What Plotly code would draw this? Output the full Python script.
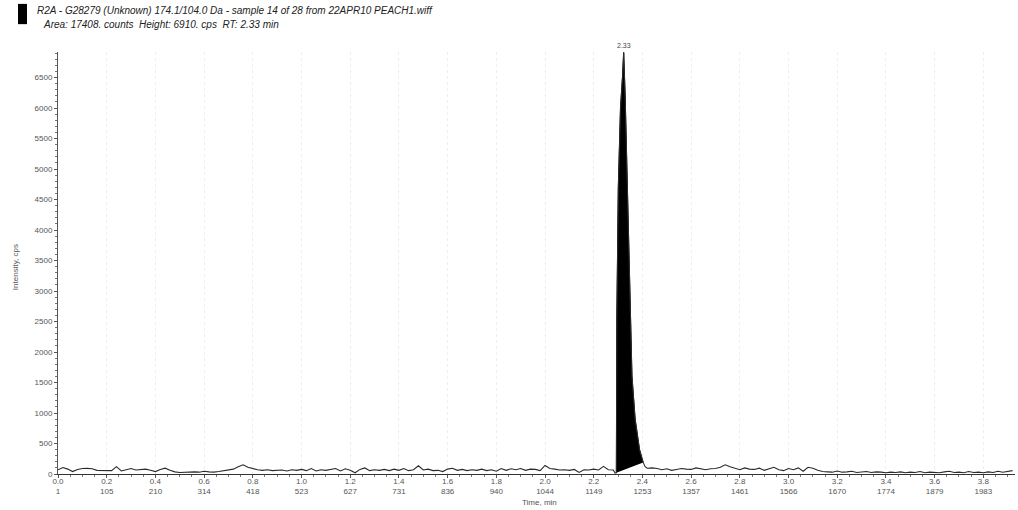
import numpy as np
import plotly.graph_objects as go

# 基线噪声（每0.02 min一个点），峰前 0.00-2.28
pre_values = [
    70, 105, 80, 40, 75, 90, 92, 85, 60, 55, 60, 55, 120, 50, 70,
    90, 65, 70, 80, 60, 40, 75, 95, 60, 35, 25, 30, 28, 35, 30,
    45, 35, 30, 40, 55, 70, 80, 120, 150, 110, 85, 70, 60, 70, 55,
    60, 65, 50, 70, 60, 75, 55, 90, 50, 70, 60, 80, 90, 50, 85,
    60, 20, 75, 100, 55, 70, 60, 75, 55, 80, 60, 90, 55, 70, 135,
    65, 80, 55, 60, 40, 80, 95, 60, 75, 55, 70, 60, 80, 55, 70,
    45, 90, 60, 85, 70, 90, 60, 80, 75, 55, 140, 90, 80, 65, 70,
    60, 75, 25, 70, 65, 80, 65, 125, 70, 65,
]
pre_times = np.round(np.arange(len(pre_values)) * 0.02, 2)

# 色谱峰
peak_times = [2.288, 2.293, 2.295, 2.301, 2.310, 2.318, 2.323, 2.329, 2.336,
              2.342, 2.349, 2.357, 2.370, 2.388, 2.403, 2.411, 2.420]
peak_values = [15, 20, 2600, 4700, 6000, 6500, 6910, 6200, 5000,
               3900, 2800, 1600, 900, 400, 190, 120, 95]

# 峰后 2.44-3.92
post_values = [
    100, 90, 70, 85, 60, 75, 90, 80, 75, 100, 80, 70, 85, 90, 110,
    150, 120, 95, 70, 100, 80, 75, 95, 60, 85, 110, 70, 55, 90, 70,
    100, 45, 110, 95, 60, 40, 35, 30, 50, 30, 35, 45, 25, 30, 40,
    25, 35, 30, 20, 30, 25, 35, 20, 30, 25, 40, 20, 30, 25, 20,
    35, 45, 25, 30, 20, 40, 25, 30, 20, 35, 25, 45, 30, 40, 55,
]
post_times = np.round(2.44 + np.arange(len(post_values)) * 0.02, 2)

time = list(pre_times) + peak_times + list(post_times)
intensity = pre_values + peak_values + post_values

# 刻度
tick_times = [0.0, 0.2, 0.4, 0.6, 0.8, 1.0, 1.2, 1.4, 1.6, 1.8, 2.0,
              2.2, 2.4, 2.6, 2.8, 3.0, 3.2, 3.4, 3.6, 3.8]
tick_scans = [1, 105, 210, 314, 418, 523, 627, 731, 836, 940, 1044,
              1149, 1253, 1357, 1461, 1566, 1670, 1774, 1879, 1983]
tick_text = [f"{t:.1f}<br>{s}" for t, s in zip(tick_times, tick_scans)]

apex_label = "2.33"
apex_idx = peak_values.index(max(peak_values))

fig = go.Figure()

# 峰下填充（黑色）
fill_x = peak_times[1:15]
fill_y = peak_values[1:15]
fig.add_trace(go.Scatter(
    x=fill_x, y=fill_y, mode='lines', fill='toself',
    fillcolor='black', line=dict(color='black', width=1),
    showlegend=False, hoverinfo='skip'
))

fig.add_trace(go.Scatter(
    x=time, y=intensity, mode='lines',
    line=dict(color='#2a2a2a', width=1.1),
    showlegend=False
))

tick_font = dict(family="Liberation Sans, Arial, sans-serif", size=8, color='#555555')
label_font = dict(family="Liberation Sans, Arial, sans-serif", size=8, color='#555555')

fig.update_layout(
    width=1018, height=510,
    margin=dict(l=58, r=3, t=52, b=36, autoexpand=False),
    plot_bgcolor='white', paper_bgcolor='white',
    xaxis=dict(
        range=[0, 3.93], automargin=False,
        tickvals=tick_times, ticktext=tick_text,
        tickfont=tick_font, ticklabelstandoff=-4,
        ticks='outside', ticklen=3, tickcolor='#555555',
        minor=dict(ticks='outside', ticklen=2, dtick=0.05, tickcolor='#777777', showgrid=False),
        showline=True, linecolor='#333333', linewidth=1,
        showgrid=True, gridcolor='#eeeeee', griddash='dot',
        zeroline=False,
    ),
    yaxis=dict(
        range=[0, 6918], automargin=False,
        tickvals=list(range(0, 7000, 500)),
        tickfont=tick_font,
        ticks='outside', ticklen=3, tickcolor='#555555',
        minor=dict(ticks='outside', ticklen=2, dtick=100, tickcolor='#777777', showgrid=False),
        showline=True, linecolor='#555555', linewidth=1,
        showgrid=False, zeroline=False,
    ),
)

# 坐标轴标题
fig.add_annotation(xref='paper', yref='paper', x=0.503, y=-0.0687, yanchor='middle',
                   text='Time, min', showarrow=False, font=label_font)
fig.add_annotation(xref='paper', yref='paper', x=-0.045, y=0.49, xanchor='center',
                   text='Intensity, cps', showarrow=False, textangle=-90, font=label_font)

# 峰顶标签
fig.add_annotation(x=peak_times[apex_idx], y=peak_values[apex_idx], text=apex_label, showarrow=False,
                   yanchor='bottom', yshift=1,
                   font=dict(family="Liberation Sans, Arial", size=7, color='#444444'))

# 标题
title_font = dict(family="Liberation Sans, Arial", size=10, color='#222222', style='italic')
fig.add_annotation(xref='paper', yref='paper', x=-0.024, y=1.0995, xanchor='left', yanchor='middle',
                   text="R2A - G28279 (Unknown) 174.1/104.0 Da - sample 14 of 28 from 22APR10 PEACH1.wiff",
                   showarrow=False, font=title_font)
fig.add_annotation(xref='paper', yref='paper', x=-0.018, y=1.066, xanchor='left', yanchor='middle',
                   text="Area: 17408. counts  Height: 6910. cps  RT: 2.33 min",
                   showarrow=False, font=title_font)
fig.add_shape(type='rect', xref='paper', yref='paper',
              x0=-0.0418, x1=-0.0324, y0=1.066, y1=1.114,
              fillcolor='black', line=dict(width=0))

# 去掉页面body的默认边距，不显示工具栏
fig.write_html("out.html", config={'displayModeBar': False},
               post_script="document.body.style.margin='0';")
